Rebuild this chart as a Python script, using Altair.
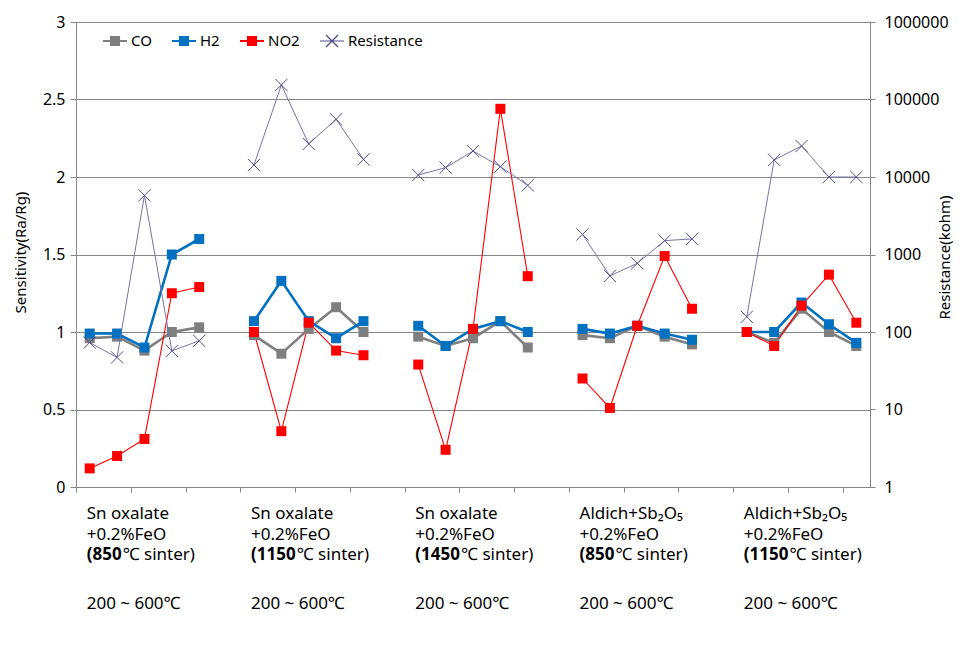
import altair as alt
import pandas as pd

# ---------------- data ----------------
series = ["CO", "H2", "NO2"]
all_series = ["CO", "H2", "NO2", "Resistance"]
group_starts = [0, 6, 12, 18, 24]   # category slots: 5 points per group, one empty slot between groups

co = [0.96, 0.97, 0.88, 1.00, 1.03,
      0.98, 0.86, 1.02, 1.16, 1.00,
      0.97, 0.91, 0.96, 1.07, 0.90,
      0.98, 0.96, 1.04, 0.97, 0.92,
      1.00, 0.93, 1.15, 1.00, 0.91]
h2 = [0.99, 0.99, 0.90, 1.50, 1.60,
      1.07, 1.33, 1.07, 0.96, 1.07,
      1.04, 0.91, 1.02, 1.07, 1.00,
      1.02, 0.99, 1.04, 0.99, 0.95,
      1.00, 1.00, 1.19, 1.05, 0.93]
no2 = [0.12, 0.20, 0.31, 1.25, 1.29,
       1.00, 0.36, 1.06, 0.88, 0.85,
       0.79, 0.24, 1.02, 2.44, 1.36,
       0.70, 0.51, 1.04, 1.49, 1.15,
       1.00, 0.91, 1.17, 1.37, 1.06]
resistance = [73, 47, 5800, 57, 77,
              14300, 154000, 26700, 55600, 16900,
              10600, 13200, 21600, 13600, 7800,
              1820, 530, 770, 1510, 1590,
              157, 16600, 25100, 10000, 10000]

label_line1 = ["Sn oxalate", "Sn oxalate", "Sn oxalate", "Aldich+Sb₂O₅", "Aldich+Sb₂O₅"]
label_line2 = ["+0.2%FeO"] * 5
sinter_temp = ["850", "1150", "1450", "850", "1150"]
temp_range = ["200 ~ 600℃"] * 5

left_ticks = [0, 0.5, 1, 1.5, 2, 2.5, 3]
right_ticks = [1, 10, 100, 1000, 10000, 100000, 1000000]

# ---------------- styles ----------------
FONT = "Noto Sans, Noto Sans CJK KR, sans-serif"
GRAY = "#7f7f7f"
BLUE = "#0070c0"
RED = "#ff0000"
RES_LINE = "#7474aa"
RES_MARK = "#4f4f8f"
AXIS_GRAY = "#868686"

SQ_PATH = "M-1,-0.08H1V0.08H-1Z M-0.42,-0.42H0.42V0.42H-0.42Z"
X_PATH = ("M-1,-0.05H1V0.05H-1Z "
          "M-0.46,-0.54L0.54,0.46L0.46,0.54L-0.54,-0.46Z "
          "M-0.54,0.46L0.46,-0.54L0.54,-0.46L-0.46,0.54Z")
MARK_X = "M-1,-1L1,1M-1,1L1,-1"

# ---------------- tables ----------------
rows = []
for name, vals in zip(series, [co, h2, no2]):
    for k, v in enumerate(vals):
        g, j = divmod(k, 5)
        rows.append({"series": name, "group": g, "pos": group_starts[g] + j, "value": v})
gas = pd.DataFrame(rows)

res_rows = []
for k, r in enumerate(resistance):
    g, j = divmod(k, 5)
    res_rows.append({"series": "Resistance", "group": g, "pos": group_starts[g] + j, "res": r})
res = pd.DataFrame(res_rows)

legend_df = pd.DataFrame({"series": all_series, "pos": [None] * 4, "value": [None] * 4})

labels_df = pd.DataFrame({
    "pos": group_starts,
    "l1": label_line1,
    "l2": label_line2,
    "temp": ["(" + t for t in sinter_temp],
    "l4": temp_range,
    "digits": [len(t) for t in sinter_temp],
})

# ---------------- scales / encodings ----------------
x_enc = alt.X(
    "pos:Q",
    scale=alt.Scale(domain=[-0.5, 28.5], nice=False, zero=False),
    axis=alt.Axis(values=[i - 0.5 for i in range(30)], labels=False, title=None, grid=False,
                  tickSize=5, tickColor=AXIS_GRAY, domainColor=AXIS_GRAY),
)
gas_scale = alt.Scale(domain=series, range=[GRAY, BLUE, RED])
legend_scale = alt.Scale(domain=all_series, range=[GRAY, BLUE, RED, RES_MARK])

y_left = alt.Y(
    "value:Q",
    scale=alt.Scale(domain=[0, 3], nice=False, zero=False),
    axis=alt.Axis(values=left_ticks, format="~g", title="Sensitivity(Ra/Rg)", grid=True,
                  gridColor=AXIS_GRAY, domainColor=AXIS_GRAY, tickColor=AXIS_GRAY, tickSize=6,
                  labelPadding=5, labelFontSize=16, titleFontSize=15, titleX=-56, titleY=230,
                  titleAngle=270, titleAlign="center", titleBaseline="middle"),
)
y_right = alt.Y(
    "res:Q",
    scale=alt.Scale(type="log", domain=[1, 1000000], nice=False),
    axis=alt.Axis(orient="right", values=right_ticks, format="d", title="Resistance(kohm)", grid=False,
                  domainColor=AXIS_GRAY, tickColor=AXIS_GRAY, tickSize=5, labelPadding=9,
                  labelFontSize=16, titleFontSize=15, titleX=74, titleY=235, titleAngle=270,
                  titleAlign="center", titleBaseline="middle"),
)

legend_kw = dict(orient="none", legendX=27, legendY=7, direction="horizontal", title=None,
                 symbolSize=576, symbolStrokeWidth=0, labelFontSize=15, labelFont=FONT,
                 labelColor="#000000", columnPadding=20, labelOffset=4, padding=0)

thick = ["CO", "H2"]
thick_lines = alt.Chart(gas).transform_filter(
    alt.FieldOneOfPredicate(field="series", oneOf=thick)
).mark_line(strokeWidth=2.6).encode(
    x=x_enc, y=y_left,
    stroke=alt.Stroke("series:N", scale=gas_scale, legend=None),
    detail="group:N",
)
thin_lines = alt.Chart(gas).transform_filter(
    alt.FieldEqualPredicate(field="series", equal="NO2")
).mark_line(strokeWidth=1.1).encode(
    x="pos:Q", y="value:Q",
    stroke=alt.Stroke("series:N", scale=gas_scale, legend=None),
    detail="group:N",
)
gas_points = alt.Chart(gas).mark_point(shape="square", filled=True, size=100, opacity=1).encode(
    x="pos:Q", y="value:Q",
    fill=alt.Fill("series:N", scale=gas_scale, legend=None),
)
legend_layer = alt.Chart(legend_df).mark_point(filled=True, opacity=1).encode(
    x="pos:Q", y="value:Q",
    color=alt.Color("series:N", scale=legend_scale, legend=alt.Legend(**legend_kw)),
    shape=alt.Shape("series:N", scale=alt.Scale(domain=all_series, range=[SQ_PATH, SQ_PATH, SQ_PATH, X_PATH]),
                    legend=alt.Legend(**legend_kw)),
)

FS = 17
base_txt = alt.Chart(labels_df)
txt_kw = dict(align="left", baseline="alphabetic", fontSize=FS, font=FONT, color="#000000")
t1 = base_txt.mark_text(dx=-3, **txt_kw).encode(x="pos:Q", y=alt.value(497), text="l1:N")
t2 = base_txt.mark_text(dx=-3, **txt_kw).encode(x="pos:Q", y=alt.value(518), text="l2:N")
t3b = base_txt.mark_text(dx=-3, fontWeight="bold", **txt_kw).encode(x="pos:Q", y=alt.value(538), text="temp:N")
t3c3 = base_txt.transform_filter("datum.digits == 3").mark_text(dx=33, **txt_kw).encode(
    x="pos:Q", y=alt.value(538), text=alt.value("℃ sinter)"))
t3c4 = base_txt.transform_filter("datum.digits == 4").mark_text(dx=42.8, **txt_kw).encode(
    x="pos:Q", y=alt.value(538), text=alt.value("℃ sinter)"))
t4 = base_txt.mark_text(dx=-3, **txt_kw).encode(x="pos:Q", y=alt.value(587), text="l4:N")

left = alt.layer(thick_lines, thin_lines, gas_points, legend_layer, t1, t2, t3b, t3c3, t3c4, t4)

res_line = alt.Chart(res).mark_line(color=RES_LINE, strokeWidth=1).encode(
    x="pos:Q", y=y_right, detail="group:N")
res_points = alt.Chart(res).mark_point(shape=MARK_X, filled=False, size=150, color=RES_MARK,
                                       strokeWidth=1, opacity=1).encode(x="pos:Q", y="res:Q")
right = alt.layer(res_line, res_points)

chart = alt.layer(left, right).resolve_scale(y="independent").properties(
    width=794, height=465,
    autosize=alt.AutoSizeParams(type="none"),
    padding={"left": 68, "top": 14, "right": 84, "bottom": 150},
    background="white",
).configure_view(stroke=None).configure_axis(
    labelFont=FONT, titleFont=FONT, labelColor="#000000", titleColor="#000000",
    titleFontWeight="normal",
)

chart.save("out.html", embed_options={"renderer": "svg", "actions": False})
